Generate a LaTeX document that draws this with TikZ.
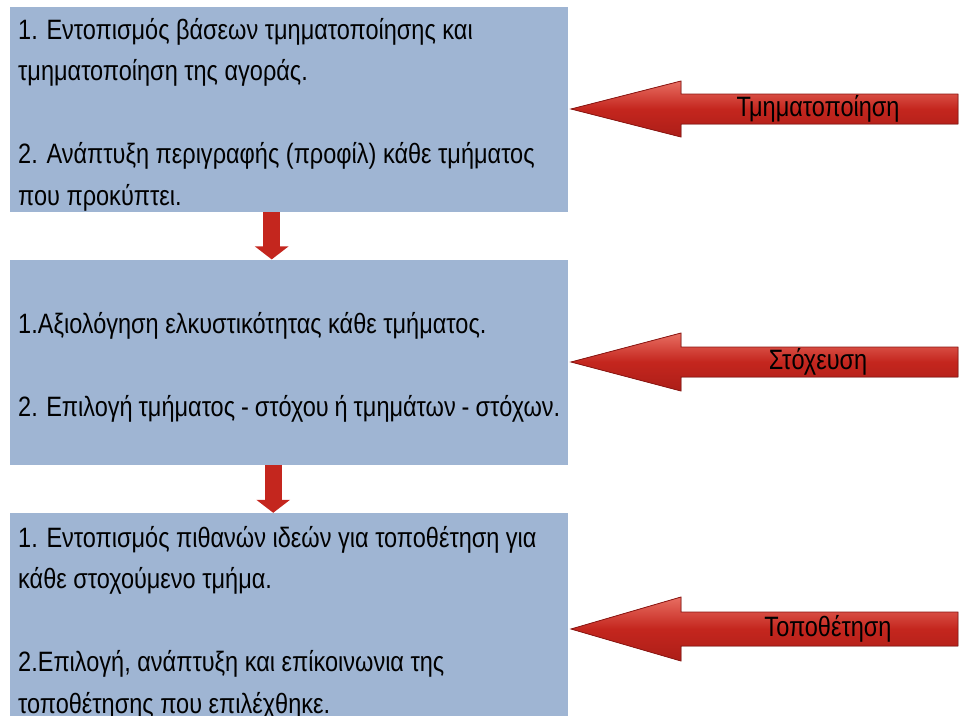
\documentclass[tikz,border=0pt]{standalone}
\usepackage{fontspec}
\setmainfont{Liberation Sans}[FakeStretch=0.84]
\usetikzlibrary{arrows.meta,positioning}

\definecolor{boxblue}{RGB}{159,181,211}
\definecolor{arrowred}{RGB}{196,38,30}
\definecolor{arrowtop}{RGB}{232,110,98}
\definecolor{arrowlow}{RGB}{172,30,24}
\definecolor{arrowrim}{RGB}{140,22,18}

\begin{document}
\begin{tikzpicture}[x=1pt,y=-1pt,
    stagebox/.style={fill=boxblue, minimum width=558pt, minimum height=205pt,
        text width=542pt, align=flush left, inner xsep=8pt, inner ysep=0pt,
        font=\fontsize{28}{41.5}\selectfont,
        execute at begin node={\rule{0pt}{31pt}}},
    flowarrow/.style={draw=arrowred, line width=17pt,
        -{Triangle[width=33pt,length=13pt]}},
    bigarrow/.style={draw=arrowrim, line width=0.8pt, top color=arrowtop,
        bottom color=arrowlow, middle color=arrowred},
    arrowlabel/.style={font=\fontsize{28}{30}\selectfont, inner sep=0pt}]
\useasboundingbox (0,0) rectangle (961,715);

% the three stages
\node[stagebox, anchor=north west] (segm) at (10,7)
    {1. Εντοπισμός βάσεων τμηματοποίησης και\\
     τμηματοποίηση της αγοράς.\\[41.5pt]
     2. Ανάπτυξη περιγραφής (προφίλ) κάθε τμήματος\\
     που προκύπτει.};
\node[stagebox, below=47pt of segm] (targ)
    {1.Αξιολόγηση ελκυστικότητας κάθε τμήματος.\\[41.5pt]
     2. Επιλογή τμήματος - στόχου ή τμημάτων - στόχων.};
\node[stagebox, minimum height=209pt, below=48pt of targ] (posi)
    {1. Εντοπισμός πιθανών ιδεών για τοποθέτηση για\\
     κάθε στοχούμενο τμήμα.\\[41.5pt]
     2.Επιλογή, ανάπτυξη και επίκοινωνια της\\
     τοποθέτησης που επιλέχθηκε.};

% flow between stages
\draw[flowarrow] ([xshift=-17.5pt]segm.south) -- ([xshift=-17.5pt]targ.north);
\draw[flowarrow] ([xshift=-16pt]targ.south) -- ([xshift=-16pt]posi.north);

% big arrows with the stage names
\foreach \yy/\hh/\sh/\word/\lx [count=\i] in {109/28/15/Τμηματοποίηση/818,
        362/29/15/Στόχευση/818, 629/32/17/Τοποθέτηση/828} {
    \filldraw[bigarrow] (571,\yy) -- (681,\yy-\hh) -- (681,\yy-\sh)
        -- (958,\yy-\sh) -- (958,\yy+\sh) -- (681,\yy+\sh)
        -- (681,\yy+\hh) -- cycle;
    \node[arrowlabel] (lab\i) at (\lx,\yy) {\word};
}
\end{tikzpicture}
\end{document}
